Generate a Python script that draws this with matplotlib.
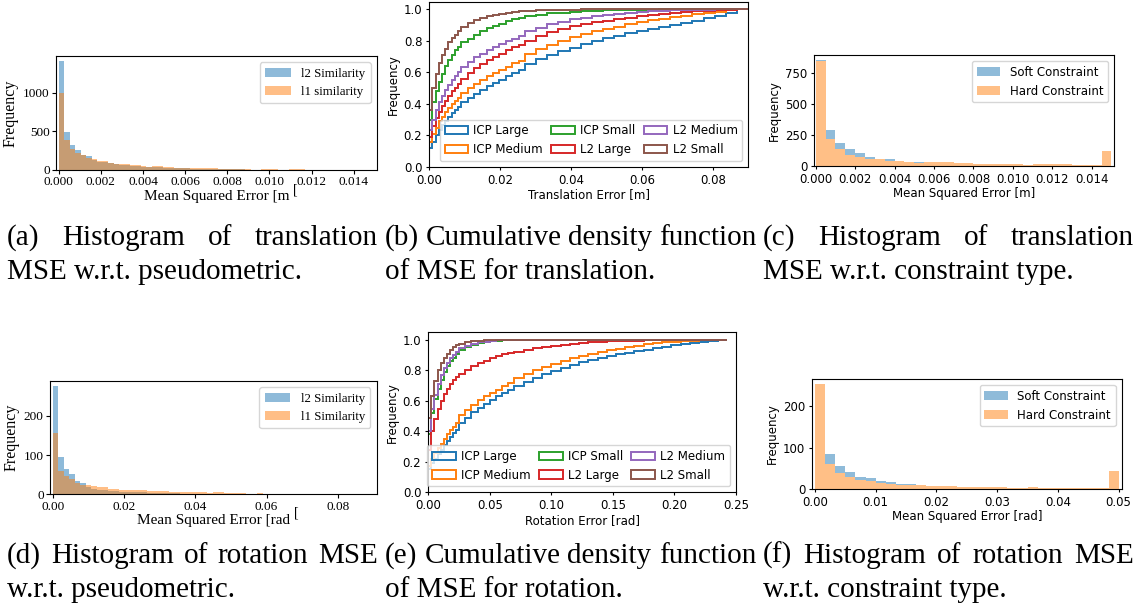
import numpy as np
import matplotlib
matplotlib.use('Agg')
import matplotlib.pyplot as plt
from matplotlib.patches import Patch
from matplotlib.ticker import FormatStrFormatter

W, H = 1141, 615
SERIF = 'Liberation Serif'

# ---------------- (a) translation MSE vs pseudometric ----------------
a_edges = np.linspace(0, 0.01508, 59)
a_l2 = [1409, 496, 326, 261, 196, 183, 135, 110, 100, 88,
        75, 70, 62, 55, 52, 45, 36, 40, 38, 30,
        30, 24, 20, 20, 18, 16, 15, 14, 12, 10,
        9, 8, 8, 7, 6, 5, 5, 5, 4, 4,
        4, 3, 3, 3, 2, 2, 2, 2, 1, 1,
        1, 1, 1, 1, 1, 0, 0, 0]
a_l1 = [1004, 391, 274, 222, 191, 157, 143, 117, 113, 96,
        83, 78, 74, 65, 65, 52, 39, 52, 52, 39,
        39, 30, 26, 26, 26, 22, 22, 22, 22, 13,
        13, 13, 13, 13, 13, 4, 4, 13, 13, 13,
        4, 4, 13, 13, 13, 4, 0, 0, 0, 0,
        0, 0, 0, 0, 0, 0, 0, 0]

# ---------------- (b) CDF translation ----------------
b_edges = [0, 0.0009, 0.0018, 0.0027, 0.0036, 0.0045, 0.0054, 0.0063, 0.0072, 0.0081, 0.009,
           0.0108, 0.0126, 0.0144, 0.0162, 0.018, 0.0198, 0.0216, 0.0234, 0.0252, 0.027,
           0.03015, 0.0333, 0.03645, 0.0396, 0.04275, 0.0459, 0.04905, 0.0522, 0.05535, 0.0585,
           0.06165, 0.0648, 0.06795, 0.0711, 0.07425, 0.0774, 0.08055, 0.0837, 0.08685, 0.09]
b_icp_large = [0.12, 0.16, 0.20, 0.235, 0.265, 0.29, 0.315, 0.34, 0.36, 0.38,
               0.41, 0.44, 0.465, 0.49, 0.515, 0.535, 0.555, 0.575, 0.595, 0.615,
               0.655, 0.685, 0.71, 0.735, 0.757, 0.778, 0.798, 0.816, 0.833, 0.849,
               0.864, 0.878, 0.891, 0.904, 0.916, 0.929, 0.943, 0.958, 0.976, 1.0]
b_icp_medium = [0.16, 0.21, 0.25, 0.29, 0.32, 0.35, 0.375, 0.40, 0.42, 0.44,
                0.47, 0.50, 0.525, 0.55, 0.575, 0.597, 0.617, 0.637, 0.657, 0.675,
                0.72, 0.75, 0.775, 0.80, 0.822, 0.842, 0.86, 0.876, 0.891, 0.905,
                0.918, 0.93, 0.941, 0.951, 0.96, 0.969, 0.977, 0.985, 0.993, 1.0]
b_icp_small = [0.30, 0.41, 0.48, 0.54, 0.59, 0.64, 0.68, 0.71, 0.74, 0.76,
               0.79, 0.815, 0.84, 0.862, 0.88, 0.897, 0.91, 0.925, 0.937, 0.948,
               0.958, 0.967, 0.974, 0.98, 0.985, 0.989, 0.992, 0.994, 0.996, 0.997,
               0.998, 0.999, 1.0, 1.0, 1.0, 1.0, 1.0, 1.0, 1.0, 1.0]
b_l2_large = [0.19, 0.26, 0.31, 0.35, 0.39, 0.42, 0.45, 0.48, 0.50, 0.525,
              0.56, 0.595, 0.625, 0.655, 0.68, 0.70, 0.72, 0.74, 0.76, 0.775,
              0.80, 0.83, 0.855, 0.875, 0.892, 0.906, 0.918, 0.929, 0.939, 0.948,
              0.956, 0.963, 0.97, 0.976, 0.982, 0.987, 0.991, 0.995, 0.998, 1.0]
b_l2_medium = [0.235, 0.30, 0.36, 0.41, 0.45, 0.49, 0.52, 0.55, 0.575, 0.60,
               0.635, 0.665, 0.695, 0.72, 0.74, 0.76, 0.78, 0.80, 0.815, 0.83,
               0.86, 0.885, 0.905, 0.922, 0.936, 0.948, 0.958, 0.966, 0.973, 0.979,
               0.984, 0.988, 0.991, 0.994, 0.996, 0.998, 0.999, 1.0, 1.0, 1.0]
b_l2_small = [0.36, 0.50, 0.59, 0.66, 0.71, 0.75, 0.79, 0.82, 0.84, 0.86,
              0.89, 0.915, 0.93, 0.945, 0.955, 0.965, 0.972, 0.978, 0.984, 0.988,
              0.992, 0.995, 0.997, 0.998, 0.999, 1.0, 1.0, 1.0, 1.0, 1.0,
              1.0, 1.0, 1.0, 1.0, 1.0, 1.0, 1.0, 1.0, 1.0, 1.0]

# ---------------- (c) translation MSE vs constraint ----------------
c_edges = np.linspace(0, 0.015, 31)
c_soft = [855, 290, 184, 135, 103, 70, 50, 52, 35, 25, 30, 22, 20, 18, 15,
          13, 10, 10, 9, 8, 8, 6, 8, 7, 7, 6, 3, 3, 2, 118]
c_hard = [848, 214, 135, 87, 70, 54, 54, 37, 38, 27, 24, 30, 30, 29, 22,
          22, 14, 14, 14, 14, 14, 6, 14, 14, 14, 14, 3, 3, 3, 120]

# ---------------- (d) rotation MSE vs pseudometric ----------------
d_edges = np.linspace(0, 0.0899, 59)
d_l2 = [275, 95, 65, 52, 34, 28, 18, 14, 12, 10,
        9, 8, 7, 7, 6, 5, 5, 4, 4, 3,
        3, 3, 3, 2, 2, 2, 2, 2, 1, 1,
        1, 1, 1, 1, 1, 1, 1, 1, 1, 1,
        1, 1, 1, 0, 1, 0, 0, 1, 0, 0,
        0, 0, 0, 1, 0, 0, 1, 0]
d_l1 = [157, 60, 47, 39, 30, 24, 23, 20, 18, 18,
        14, 14, 11, 11, 11, 11, 11, 9, 8, 8,
        8, 7, 6, 6, 6, 6, 5, 5, 4, 5,
        6, 3, 3, 3, 3, 2, 2, 3, 2, 2,
        2, 2, 2, 2, 1, 2, 1, 1, 2, 0,
        0, 0, 0, 0, 0, 0, 0, 0]

# ---------------- (e) CDF rotation ----------------
e_edges = [0, 0.0025, 0.005, 0.0075, 0.01, 0.0125, 0.015, 0.0175, 0.02, 0.0225, 0.025,
           0.03, 0.035, 0.04, 0.045, 0.05, 0.055, 0.06, 0.065, 0.07,
           0.0775, 0.085, 0.0925, 0.1, 0.1075, 0.115, 0.1225, 0.13, 0.1375, 0.145,
           0.1525, 0.16, 0.1675, 0.175, 0.1825, 0.19, 0.1975, 0.205, 0.2125, 0.22,
           0.2275, 0.235, 0.2425]
e_icp_large = [0.15, 0.19, 0.22, 0.25, 0.28, 0.31, 0.34, 0.365, 0.39, 0.41,
               0.455, 0.49, 0.525, 0.555, 0.58, 0.605, 0.63, 0.65, 0.67,
               0.70, 0.725, 0.75, 0.775, 0.797, 0.817, 0.836, 0.853, 0.868, 0.882,
               0.895, 0.907, 0.918, 0.928, 0.937, 0.946, 0.955, 0.964, 0.972, 0.98,
               0.988, 0.995, 1.0]
e_icp_medium = [0.17, 0.22, 0.26, 0.29, 0.32, 0.35, 0.38, 0.41, 0.43, 0.455,
                0.51, 0.54, 0.575, 0.605, 0.63, 0.655, 0.675, 0.70, 0.72,
                0.75, 0.775, 0.80, 0.822, 0.843, 0.862, 0.879, 0.894, 0.908, 0.921,
                0.933, 0.944, 0.954, 0.963, 0.971, 0.978, 0.984, 0.989, 0.993, 0.996,
                0.998, 1.0, 1.0]
e_icp_small = [0.38, 0.52, 0.61, 0.68, 0.74, 0.79, 0.83, 0.86, 0.885, 0.905,
               0.935, 0.955, 0.97, 0.98, 0.987, 0.992, 0.996, 0.998, 1.0,
               1.0, 1.0, 1.0, 1.0, 1.0, 1.0, 1.0, 1.0, 1.0, 1.0,
               1.0, 1.0, 1.0, 1.0, 1.0, 1.0, 1.0, 1.0, 1.0, 1.0,
               1.0, 1.0, 1.0]
e_l2_large = [0.28, 0.40, 0.48, 0.55, 0.60, 0.645, 0.68, 0.71, 0.735, 0.755,
              0.78, 0.805, 0.83, 0.85, 0.865, 0.88, 0.893, 0.905, 0.915,
              0.923, 0.935, 0.945, 0.953, 0.961, 0.968, 0.974, 0.979, 0.984, 0.988,
              0.991, 0.993, 0.995, 0.996, 0.997, 0.998, 0.999, 0.999, 1.0, 1.0,
              1.0, 1.0, 1.0]
e_l2_medium = [0.40, 0.55, 0.64, 0.71, 0.77, 0.815, 0.85, 0.88, 0.90, 0.92,
               0.945, 0.962, 0.975, 0.984, 0.99, 0.994, 0.997, 0.999, 1.0,
               1.0, 1.0, 1.0, 1.0, 1.0, 1.0, 1.0, 1.0, 1.0, 1.0,
               1.0, 1.0, 1.0, 1.0, 1.0, 1.0, 1.0, 1.0, 1.0, 1.0,
               1.0, 1.0, 1.0]
e_l2_small = [0.49, 0.63, 0.73, 0.80, 0.85, 0.885, 0.91, 0.935, 0.952, 0.965,
              0.977, 0.986, 0.992, 0.996, 0.998, 0.999, 1.0, 1.0, 1.0,
              1.0, 1.0, 1.0, 1.0, 1.0, 1.0, 1.0, 1.0, 1.0, 1.0,
              1.0, 1.0, 1.0, 1.0, 1.0, 1.0, 1.0, 1.0, 1.0, 1.0,
              1.0, 1.0, 1.0]

# ---------------- (f) rotation MSE vs constraint ----------------
f_edges = np.linspace(0, 0.05, 31)
f_soft = [250, 84, 55, 41, 29, 26, 19, 17, 12, 12, 9, 7, 6, 5, 4,
          4, 3, 3, 3, 3, 2, 3, 2, 2, 1, 1, 1, 1, 1, 40]
f_hard = [253, 60, 39, 28, 22, 19, 14, 13, 10, 10, 10, 8, 7, 7, 5,
          4, 4, 4, 4, 3, 3, 5, 2, 2, 2, 2, 2, 2, 2, 43]

cdf_labels = ['ICP Large', 'ICP Medium', 'ICP Small', 'L2 Large', 'L2 Medium', 'L2 Small']
cdf_colors = ['#1f77b4', '#ff7f0e', '#2ca02c', '#d62728', '#9467bd', '#8c564b']

captions = [
    ('(a) Histogram of translation', 'MSE w.r.t. pseudometric.', 7, 245),
    ('(b) Cumulative density function', 'of MSE for translation.', 385, 245),
    ('(c) Histogram of translation', 'MSE w.r.t. constraint type.', 763, 245),
    ('(d) Histogram of rotation MSE', 'w.r.t. pseudometric.', 7, 563),
    ('(e) Cumulative density function', 'of MSE for rotation.', 385, 563),
    ('(f) Histogram of rotation MSE', 'w.r.t. constraint type.', 763, 563),
]


def rect(x0, y0, x1, y1):
    """pixel box (top-left origin) -> figure fraction rect"""
    return [x0 / W, 1 - y1 / H, (x1 - x0) / W, (y1 - y0) / H]


plt.rcParams['font.family'] = 'DejaVu Sans'
plt.rcParams['font.size'] = 8.5
plt.rcParams['xtick.major.size'] = 2.5
plt.rcParams['ytick.major.size'] = 2.5
plt.rcParams['xtick.major.pad'] = 2.5
plt.rcParams['ytick.major.pad'] = 2.5

fig = plt.figure(figsize=(W / 100, H / 100), dpi=100)


def serif_hist(box, edges, l2, l1, l1_label, xlim, xticks, xfmt, yticks, xlabel, bracket_xy):
    ax = fig.add_axes(rect(*box))
    ax.hist(edges[:-1], bins=edges, weights=l2, alpha=0.5, label='l2 Similarity')
    ax.hist(edges[:-1], bins=edges, weights=l1, alpha=0.5, label=l1_label)
    ax.set_xlim(*xlim)
    ax.set_xticks(xticks)
    ax.xaxis.set_major_formatter(FormatStrFormatter(xfmt))
    ax.set_yticks(yticks)
    ax.tick_params(labelfontfamily=SERIF, labelsize=9.5, length=3, pad=1.5)
    ax.set_ylabel('Frequency', family=SERIF, fontsize=11.5, labelpad=3)
    ax.set_xlabel(xlabel, family=SERIF, fontsize=11, labelpad=1)
    ax.text(bracket_xy[0], bracket_xy[1], '[', transform=ax.transAxes, family=SERIF,
            fontsize=10, va='center', ha='left')
    ax.legend(loc='upper right', prop={'family': SERIF, 'size': 9.3})
    return ax


def cdf_panel(box, edges, series, xlim, xticks, xlabel):
    ax = fig.add_axes(rect(*box))
    for vals, c in zip(series, cdf_colors):
        ax.stairs(vals, edges, color=c, lw=1.4, baseline=None)
    ax.set_xlim(*xlim)
    ax.set_ylim(0, 1.05)
    ax.set_xticks(xticks)
    ax.set_yticks([0, 0.2, 0.4, 0.6, 0.8, 1.0])
    ax.set_ylabel('Frequency', labelpad=3)
    ax.set_xlabel(xlabel, labelpad=1)
    handles = [Patch(facecolor='none', edgecolor=c, lw=1.4, label=l)
               for l, c in zip(cdf_labels, cdf_colors)]
    ax.legend(handles=handles, ncol=3, loc='lower right', columnspacing=0.7,
              handletextpad=0.45)
    return ax


def constraint_hist(box, edges, soft, hard, xlim, yticks, xticks, xfmt, xlabel):
    ax = fig.add_axes(rect(*box))
    ax.hist(edges[:-1], bins=edges, weights=soft, color='#8fbbd9', label='Soft Constraint')
    ax.hist(edges[:-1], bins=edges, weights=hard, color='#ffbf86', label='Hard Constraint')
    ax.set_xlim(*xlim)
    ax.set_yticks(yticks)
    ax.set_xticks(xticks)
    ax.xaxis.set_major_formatter(FormatStrFormatter(xfmt))
    ax.set_ylabel('Frequency', labelpad=3)
    ax.set_xlabel(xlabel, labelpad=1)
    ax.legend(loc='upper right')
    return ax


serif_hist((56, 56, 377, 170), a_edges, a_l2, a_l1, 'l1 similarity',
           (-0.000128, 0.0151), [0, 0.002, 0.004, 0.006, 0.008, 0.010, 0.012, 0.014], '%.3f',
           [0, 500, 1000], 'Mean Squared Error [m', (0.738, -0.175))
cdf_panel((429.3, 1.5, 748.3, 167), b_edges,
          [b_icp_large, b_icp_medium, b_icp_small, b_l2_large, b_l2_medium, b_l2_small],
          (0, 0.09), [0, 0.02, 0.04, 0.06, 0.08], 'Translation Error [m]')
constraint_hist((814.3, 55, 1114, 165.7), c_edges, c_soft, c_hard, (-0.00007, 0.01513),
                [0, 250, 500, 750], [0, 0.002, 0.004, 0.006, 0.008, 0.010, 0.012, 0.014],
                '%.3f', 'Mean Squared Error [m]')

serif_hist((50, 381, 376.7, 494.3), d_edges, d_l2, d_l1, 'l1 Similarity',
           (-0.00076, 0.0909), [0, 0.02, 0.04, 0.06, 0.08], '%.2f',
           [0, 100, 200], 'Mean Squared Error [rad', (0.747, -0.165))
cdf_panel((428.3, 332.4, 736, 492.3), e_edges,
          [e_icp_large, e_icp_medium, e_icp_small, e_l2_large, e_l2_medium, e_l2_small],
          (0, 0.25), [0, 0.05, 0.10, 0.15, 0.20, 0.25], 'Rotation Error [rad]')
fig.axes[-1].xaxis.set_major_formatter(FormatStrFormatter('%.2f'))
constraint_hist((812.3, 379, 1121.7, 489), f_edges, f_soft, f_hard, (-0.00044, 0.0505),
                [0, 100, 200], [0, 0.01, 0.02, 0.03, 0.04, 0.05], '%.2f',
                'Mean Squared Error [rad]')

# captions, first line justified across the column like the LaTeX subcaption
renderer = fig.canvas.get_renderer()
col_w = 371
cap_size = 21
for line1, line2, x0, base in captions:
    words = line1.split()
    arts = [fig.text(0, 1 - base / H, w, family=SERIF, fontsize=cap_size, va='baseline')
            for w in words]
    widths = [a.get_window_extent(renderer).width for a in arts]
    gap = (col_w - sum(widths)) / (len(words) - 1)
    x = x0
    for a, wd in zip(arts, widths):
        a.set_x(x / W)
        x += wd + gap
    fig.text(x0 / W, 1 - (base + 34) / H, line2, family=SERIF, fontsize=cap_size, va='baseline')

fig.savefig('out.png', dpi=100)
